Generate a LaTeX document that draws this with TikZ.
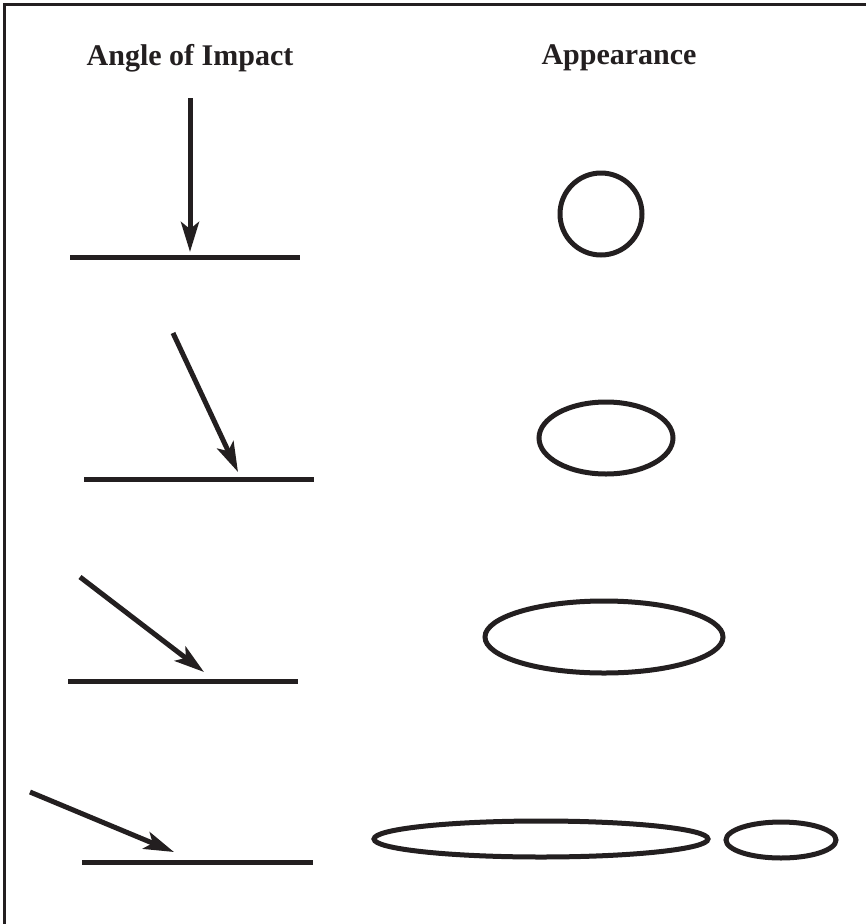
\documentclass[tikz,border=0pt]{standalone}
\usepackage{fontspec}
\setmainfont{Liberation Serif}
\usetikzlibrary{arrows.meta}
\definecolor{ink}{HTML}{231F20}
\begin{document}
\begin{tikzpicture}[x=1pt,y=-1pt,
  ink/.style={draw=ink,line width=5pt},
  ground/.style={ink},
  impact/.style={ink,-{Stealth[length=30pt,width=18pt,inset=7pt]}},
  spot/.style={draw=ink,line width=5pt},
  title/.style={font=\fontsize{30}{36}\selectfont\bfseries,text=ink,inner sep=0pt}]
\useasboundingbox (0,0) rectangle (866,924);
\draw[draw=ink,line width=3pt] (4,924) coordinate (bl) -- (4,4) coordinate (tl) -- (866,4) coordinate (tr);
\node[title] (t1) at (190,58) {Angle of Impact};
\node[title] (t2) at (619,58) {Appearance};
% row 1
\coordinate (g1a) at (70,257); \coordinate (g1b) at (300,257);
\draw[ground] (g1a) -- (g1b);
\coordinate (a1s) at (190,98); \coordinate (a1e) at (190,252);
\draw[impact] (a1s) -- (a1e);
\node[spot,circle,minimum size=82pt,inner sep=0pt] (c1) at (601,214) {};
% row 2
\coordinate (g2a) at (84,479); \coordinate (g2b) at (314,479);
\draw[ground] (g2a) -- (g2b);
\coordinate (a2s) at (173,333); \coordinate (a2e) at (238,472);
\draw[impact] (a2s) -- (a2e);
\draw[spot] (606,438) ellipse [x radius=67, y radius=36];
% row 3
\coordinate (g3a) at (68,681); \coordinate (g3b) at (298,681);
\draw[ground] (g3a) -- (g3b);
\coordinate (a3s) at (80,577); \coordinate (a3e) at (204,672);
\draw[impact] (a3s) -- (a3e);
\draw[spot] (604,637) ellipse [x radius=119, y radius=36];
% row 4
\coordinate (g4a) at (82,862); \coordinate (g4b) at (313,862);
\draw[ground] (g4a) -- (g4b);
\coordinate (a4s) at (30,792); \coordinate (a4e) at (174,852);
\draw[impact] (a4s) -- (a4e);
\draw[spot] (541,839) ellipse [x radius=167, y radius=18];
\draw[spot] (781,840) ellipse [x radius=55, y radius=18];
\end{tikzpicture}
\end{document}
